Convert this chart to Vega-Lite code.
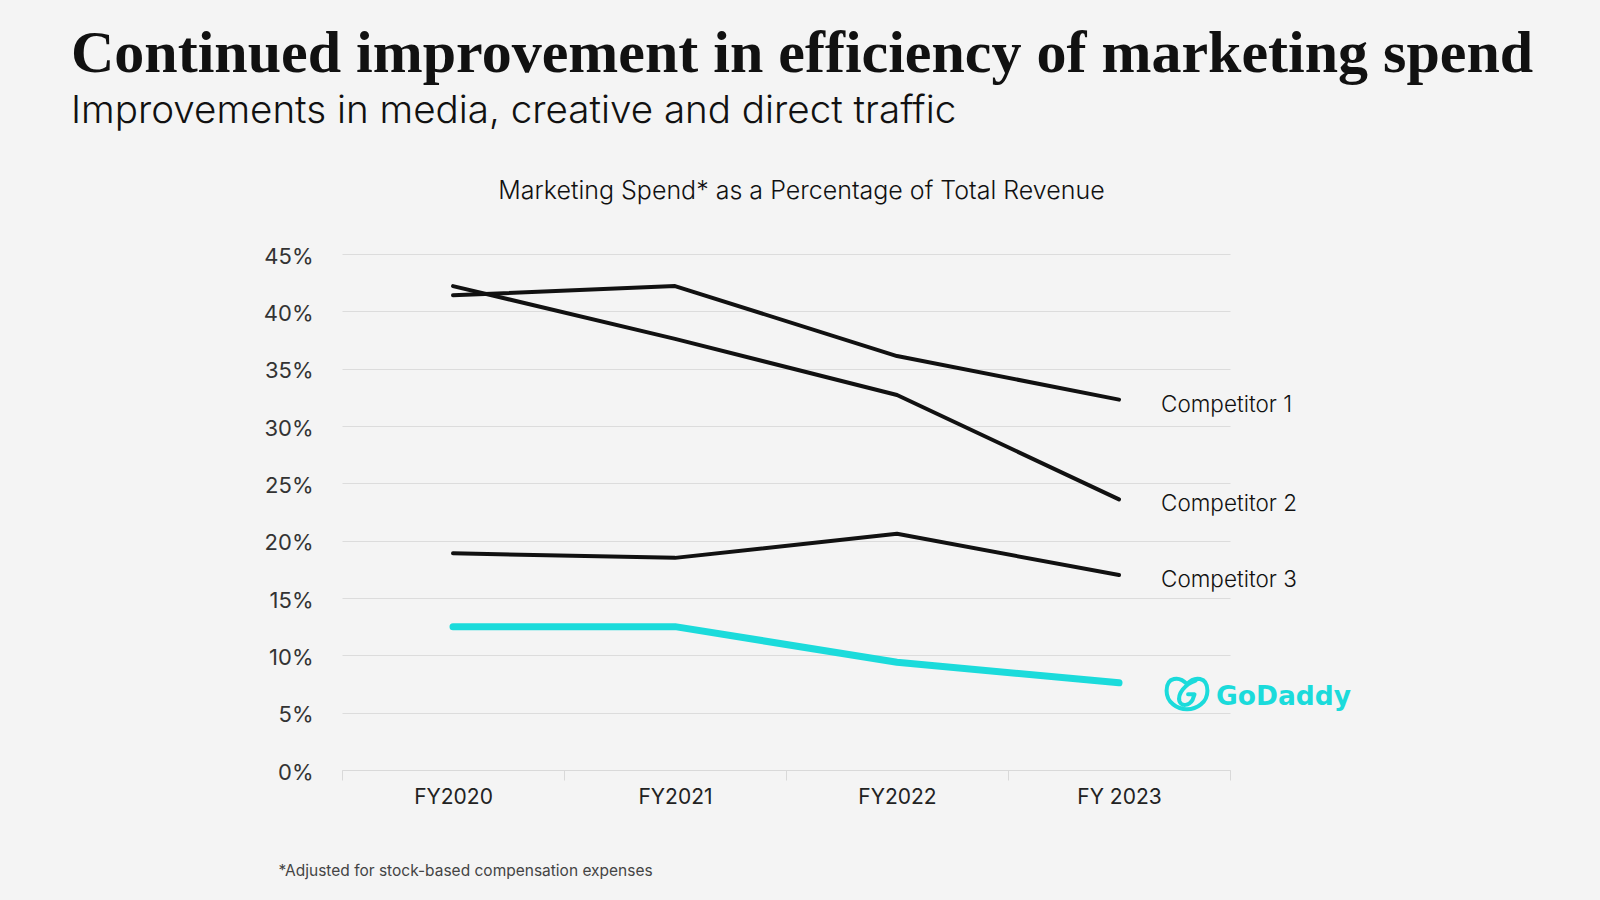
{
  "$schema": "https://vega.github.io/schema/vega-lite/v6.json",
  "width": 888,
  "height": 516,
  "autosize": {"type": "none"},
  "padding": {"left": 342, "top": 254, "right": 370, "bottom": 130},
  "background": "#f4f4f4",
  "title": {
    "text": "Continued improvement in efficiency of marketing spend",
    "subtitle": "Improvements in media, creative and direct traffic",
    "anchor": "start",
    "frame": "group",
    "orient": "top",
    "dx": -271,
    "offset": 46,
    "font": "Liberation Serif",
    "fontSize": 60,
    "fontWeight": "bold",
    "color": "#111111",
    "subtitleFont": "Inter",
    "subtitleFontSize": 38.6,
    "subtitleFontWeight": 300,
    "subtitleColor": "#111111",
    "subtitlePadding": 8
  },
  "config": {
    "view": {"stroke": null},
    "font": "Inter"
  },
  "data": {
    "values": [
      {"year": "FY2020", "series": "Competitor 1", "pct": 41.4},
      {"year": "FY2021", "series": "Competitor 1", "pct": 42.2},
      {"year": "FY2022", "series": "Competitor 1", "pct": 36.1},
      {"year": "FY 2023", "series": "Competitor 1", "pct": 32.3},
      {"year": "FY2020", "series": "Competitor 2", "pct": 42.2},
      {"year": "FY2021", "series": "Competitor 2", "pct": 37.6},
      {"year": "FY2022", "series": "Competitor 2", "pct": 32.7},
      {"year": "FY 2023", "series": "Competitor 2", "pct": 23.6},
      {"year": "FY2020", "series": "Competitor 3", "pct": 18.9},
      {"year": "FY2021", "series": "Competitor 3", "pct": 18.5},
      {"year": "FY2022", "series": "Competitor 3", "pct": 20.6},
      {"year": "FY 2023", "series": "Competitor 3", "pct": 17.0},
      {"year": "FY2020", "series": "GoDaddy", "pct": 12.5},
      {"year": "FY2021", "series": "GoDaddy", "pct": 12.5},
      {"year": "FY2022", "series": "GoDaddy", "pct": 9.4},
      {"year": "FY 2023", "series": "GoDaddy", "pct": 7.6}
    ]
  },
  "encoding": {
    "x": {
      "field": "year",
      "type": "ordinal",
      "sort": null,
      "bandPosition": 0.5,
      "scale": {"type": "band", "paddingInner": 0, "paddingOuter": 0},
      "axis": {
        "title": "*Adjusted for stock-based compensation expenses",
        "titleX": -64,
        "titleY": 100,
        "titleAlign": "left",
        "titleAnchor": "start",
        "titleBaseline": "middle",
        "titleFont": "Inter",
        "titleFontSize": 15.5,
        "titleFontWeight": 400,
        "titleColor": "#444444",
        "labelAngle": 0,
        "labelFont": "Inter",
        "labelFontSize": 21,
        "labelColor": "#222222",
        "labelPadding": 6,
        "tickBand": "extent",
        "tickSize": 10,
        "tickColor": "#d9d9d9",
        "domainColor": "#d9d9d9",
        "grid": false
      }
    },
    "y": {
      "field": "pct",
      "type": "quantitative",
      "scale": {"domain": [0, 45], "nice": false},
      "axis": {
        "title": "Marketing Spend* as a Percentage of Total Revenue",
        "titleAngle": 0,
        "titleX": 459,
        "titleY": -64,
        "titleAlign": "center",
        "titleBaseline": "middle",
        "titleFont": "Inter",
        "titleFontSize": 25,
        "titleFontWeight": 300,
        "titleColor": "#111111",
        "values": [0, 5, 10, 15, 20, 25, 30, 35, 40, 45],
        "labelExpr": "datum.value + '%'",
        "labelFont": "Inter",
        "labelFontSize": 22,
        "labelColor": "#333333",
        "labelPadding": 29,
        "labelBaseline": "middle",
        "labelOffset": 2,
        "ticks": false,
        "domain": false,
        "gridColor": "#dcdcdc",
        "gridWidth": 1.2
      }
    }
  },
  "layer": [
    {
      "transform": [{"filter": "datum.series !== 'GoDaddy'"}],
      "mark": {"type": "line", "color": "#111111", "strokeWidth": 4, "strokeCap": "round", "strokeJoin": "round"},
      "encoding": {"detail": {"field": "series"}}
    },
    {
      "transform": [{"filter": "datum.series === 'GoDaddy'"}],
      "mark": {"type": "line", "color": "#1bdbdb", "strokeWidth": 7, "strokeCap": "round", "strokeJoin": "round"},
      "encoding": {}
    },
    {
      "transform": [{"filter": "datum.year === 'FY 2023' && datum.series !== 'GoDaddy'"}],
      "mark": {"type": "text", "align": "left", "baseline": "middle", "dx": 42, "dy": 5, "font": "Inter", "fontSize": 22.5, "fontWeight": 300, "color": "#111111"},
      "encoding": {"text": {"field": "series"}}
    },
    {
      "transform": [{"filter": "datum.year === 'FY 2023' && datum.series === 'GoDaddy'"}],
      "mark": {"type": "text", "align": "left", "baseline": "middle", "dx": 97, "dy": 14, "font": "DejaVu Sans", "fontWeight": "bold", "fontSize": 26.5, "color": "#1bdbdb"},
      "encoding": {"text": {"field": "series"}}
    },
    {
      "transform": [{"filter": "datum.year === 'FY 2023' && datum.series === 'GoDaddy'"}],
      "mark": {
        "type": "point",
        "shape": "M0,-0.45 C-0.35,-0.85 -0.95,-0.8 -0.95,-0.15 C-0.95,0.4 -0.45,0.72 0,0.72 C0.45,0.72 0.95,0.4 0.95,-0.15 C0.95,-0.8 0.35,-0.85 0,-0.45 M0.4,-0.62 C-0.1,-0.45 -0.45,0 -0.35,0.35 C-0.25,0.6 0.1,0.55 0.25,0.3 L0.35,0.02 L0.05,0.02",
        "filled": false,
        "stroke": "#1bdbdb",
        "strokeWidth": 4,
        "strokeCap": "round",
        "strokeJoin": "round",
        "size": 1849,
        "opacity": 1,
        "xOffset": 68,
        "yOffset": 11
      },
      "encoding": {}
    }
  ]
}
